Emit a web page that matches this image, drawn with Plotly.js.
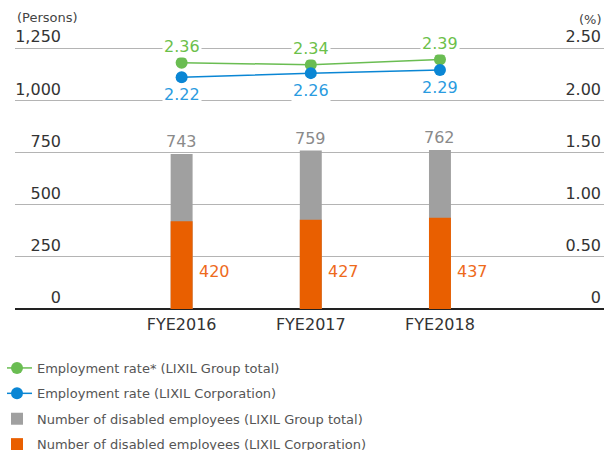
<!DOCTYPE html>
<html>
<head>
<meta charset="utf-8">
<script src="https://cdn.plot.ly/plotly-3.0.1.min.js"></script>
<style>html,body{margin:0;padding:0;background:#fff;}</style>
</head>
<body>
<div id="chart" style="width:606px;height:450px;"></div>
<script>
const categories = ['FYE2016', 'FYE2017', 'FYE2018'];
const groupTotal = [743, 759, 762];
const corpCount = [420, 427, 437];
const groupRate = [2.36, 2.34, 2.39];
const corpRate = [2.22, 2.26, 2.29];
const leftTickVals = [0, 250, 500, 750, 1000, 1250];
const leftTickText = ['0', '250', '500', '750', '1,000', '1,250'];
const rightTickVals = [0, 0.5, 1, 1.5, 2, 2.5];
const rightTickText = ['0', '0.50', '1.00', '1.50', '2.00', '2.50'];

const FONT = 'DejaVu Sans, sans-serif';
const GRAY = '#a0a0a0', ORANGE = '#e95f00', GREEN = '#6abd52', BLUE = '#0a86d4';

const traces = [
  {type: 'bar', x: categories, y: groupTotal, yaxis: 'y', width: 0.17,
   marker: {color: GRAY}, name: 'Number of disabled employees (LIXIL Group total)',
   legendrank: 3, legendgroup: 'c', hoverinfo: 'skip'},
  {type: 'bar', x: categories, y: corpCount, yaxis: 'y', width: 0.17,
   marker: {color: ORANGE}, name: 'Number of disabled employees (LIXIL Corporation)',
   legendrank: 4, legendgroup: 'd', hoverinfo: 'skip'},
  {type: 'scatter', mode: 'lines+markers', x: categories, y: groupRate, yaxis: 'y2',
   line: {color: GREEN, width: 1.5}, marker: {color: GREEN, size: 12},
   name: 'Employment rate* (LIXIL Group total)', legendrank: 1, legendgroup: 'a', hoverinfo: 'skip'},
  {type: 'scatter', mode: 'lines+markers', x: categories, y: corpRate, yaxis: 'y2',
   line: {color: BLUE, width: 1.5}, marker: {color: BLUE, size: 12},
   name: 'Employment rate (LIXIL Corporation)', legendrank: 2, legendgroup: 'b', hoverinfo: 'skip'}
];

const annotations = [];
categories.forEach((c, i) => {
  annotations.push({x: c, y: groupTotal[i], xref: 'x', yref: 'y', text: String(groupTotal[i]),
    showarrow: false, yanchor: 'bottom', yshift: 1, font: {family: FONT, size: 16, color: '#8a8a8a'}});
  annotations.push({x: c, y: 0, xref: 'x', yref: 'y', text: String(corpCount[i]),
    showarrow: false, xanchor: 'left', yanchor: 'middle', xshift: 15, yshift: 38,
    font: {family: FONT, size: 16, color: '#ee6a1c'}});
  annotations.push({x: c, y: groupRate[i], xref: 'x', yref: 'y2', text: groupRate[i].toFixed(2),
    showarrow: false, yanchor: 'middle', yshift: 16, bgcolor: '#ffffff', borderpad: 1,
    font: {family: FONT, size: 16, color: '#6cc04a'}});
  annotations.push({x: c, y: corpRate[i], xref: 'x', yref: 'y2', text: corpRate[i].toFixed(2),
    showarrow: false, yanchor: 'middle', yshift: -17, bgcolor: '#ffffff', borderpad: 1,
    font: {family: FONT, size: 16, color: '#2a9be0'}});
});
annotations.push({xref: 'paper', yref: 'paper', x: 0, y: 1.1065, xanchor: 'left', yanchor: 'middle',
  text: '(Persons)', showarrow: false, font: {family: FONT, size: 13, color: '#444'}});
annotations.push({xref: 'paper', yref: 'paper', x: 1, y: 1.099, xanchor: 'right', yanchor: 'middle',
  text: '(%)', showarrow: false, font: {family: FONT, size: 13, color: '#444'}});

const layout = {
  width: 606, height: 450,
  margin: {l: 15, r: 2, t: 46, b: 141, pad: 0},
  paper_bgcolor: '#ffffff', plot_bgcolor: '#ffffff',
  barmode: 'overlay',
  font: {family: FONT, color: '#333'},
  showlegend: true,
  legend: {xref: 'paper', yref: 'container', x: -0.0136, y: 0.2156, xanchor: 'left', yanchor: 'top',
    orientation: 'v', traceorder: 'grouped', tracegroupgap: 5.5, indentation: -10,
    font: {family: FONT, size: 13, color: '#555'}, bgcolor: 'rgba(0,0,0,0)'},
  xaxis: {type: 'category', range: [-1.29, 3.27], showgrid: false, zeroline: false,
    showline: false, ticks: '', ticklabelstandoff: 4, tickangle: 0,
    tickfont: {family: FONT, size: 16, color: '#333'}, fixedrange: true},
  yaxis: {range: [0, 1260], tickvals: leftTickVals, ticktext: leftTickText,
    showgrid: true, gridcolor: '#b4b4b4', gridwidth: 1,
    zeroline: true, zerolinecolor: '#222', zerolinewidth: 1.2,
    showline: false, ticks: '', automargin: false,
    ticklabelposition: 'outside top', ticklabelstandoff: -47, ticklabeloverflow: 'allow',
    tickfont: {family: FONT, size: 16, color: '#333'}, fixedrange: true},
  yaxis2: {range: [0, 2.52], overlaying: 'y', side: 'right', tickvals: rightTickVals, ticktext: rightTickText,
    showgrid: false, zeroline: false, showline: false, ticks: '', automargin: false,
    ticklabelposition: 'inside top', ticklabeloverflow: 'allow',
    tickfont: {family: FONT, size: 16, color: '#333'}, fixedrange: true},
  annotations: annotations
};

Plotly.newPlot('chart', traces, layout, {displayModeBar: false, staticPlot: true});
</script>
</body>
</html>
